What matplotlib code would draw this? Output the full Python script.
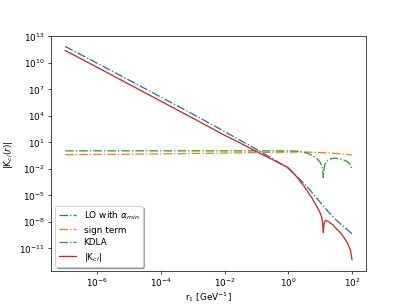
import numpy as np
import matplotlib
matplotlib.use('Agg')
import matplotlib.pyplot as plt

# values, as log10 of r and of |K|
lo_logr = [-7, -6, -5, -4, -3, -2, -1, -0.5, 0, 0.25, 0.5, 0.75, 1.0, 1.25, 1.5, 1.75, 2.0]
lo_logk = [11.86, 9.96, 8.05, 6.13, 4.2, 2.22, 0.2, -0.85, -1.95, -2.8, -3.68, -4.7, -5.8, -6.85, -7.8, -8.6, -9.35]

sign_logr = [-7, -5, -3, -2, -1, 0, 0.5, 1.0, 1.5, 2.0]
sign_logk = [-0.4, -0.35, -0.27, -0.22, -0.16, -0.12, -0.1, -0.16, -0.27, -0.42]

kdla_logr = [-7, -5, -3, -1, 0, 0.2, 0.4, 0.6, 0.76, 0.9, 1.0, 1.05, 1.08, 1.1, 1.12, 1.15, 1.2,
             1.3, 1.45, 1.6, 1.75, 1.86, 1.95, 2.0]
kdla_logk = [0.03, 0.03, 0.03, 0.03, 0.02, 0.0, -0.06, -0.25, -0.5, -0.85, -1.25, -1.6, -2.1, -3.0, -2.1,
             -1.5, -1.15, -0.9, -0.8, -0.85, -1.02, -1.2, -1.55, -2.15]

kcl_logr = [-7, -6, -5, -4, -3, -2, -1.5, -1, -0.5, 0, 0.25, 0.5, 0.75, 0.9, 1.0, 1.05, 1.08, 1.1,
            1.12, 1.16, 1.25, 1.4, 1.5, 1.65, 1.75, 1.86, 1.95, 2.0]
kcl_logk = [11.4, 9.5, 7.58, 5.66, 3.74, 1.8, 0.9, -0.05, -0.95, -1.88, -2.85, -4.0, -5.35, -6.3, -7.0,
            -7.5, -8.2, -9.2, -8.3, -7.87, -7.95, -8.35, -8.75, -9.3, -9.8, -10.44, -11.2, -12.3]

labels = [r'LO with $\alpha_{min}$', 'sign term', 'KDLA', r'|K$_{cl}$|']
xtick_exp = [-6, -4, -2, 0, 2]
ytick_exp = [-11, -8, -5, -2, 1, 4, 7, 10, 13]


def main():
    fig = plt.figure(figsize=(6.4, 4.8), dpi=63.6)
    ax = fig.add_subplot(1, 1, 1)

    series = [(lo_logr, lo_logk), (sign_logr, sign_logk), (kdla_logr, kdla_logk), (kcl_logr, kcl_logk)]
    styles = [('C0', '-.'), ('C1', '-.'), ('C2', '-.'), ('C3', '-')]
    for (lr, lk), (col, ls), lab in zip(series, styles, labels):
        ax.plot(np.power(10.0, lr), np.power(10.0, lk), color=col, linestyle=ls, label=lab)

    ax.set_xscale('log')
    ax.set_yscale('log')
    ax.set_ylim(10**-13.63, 1e13)
    ax.set_xticks(np.power(10.0, xtick_exp))
    ax.set_yticks(np.power(10.0, ytick_exp))
    ax.minorticks_off()
    ax.tick_params(axis='x', pad=2.5)
    ax.set_xlabel(r'r$_1$ [GeV$^{-1}$]', labelpad=1)
    ax.set_ylabel(r'|K$_{cl}(r)$|')
    ax.legend(loc='lower left', shadow=True, labelspacing=0.4)

    fig.savefig('out.png', dpi=63.6)


if __name__ == '__main__':
    main()
